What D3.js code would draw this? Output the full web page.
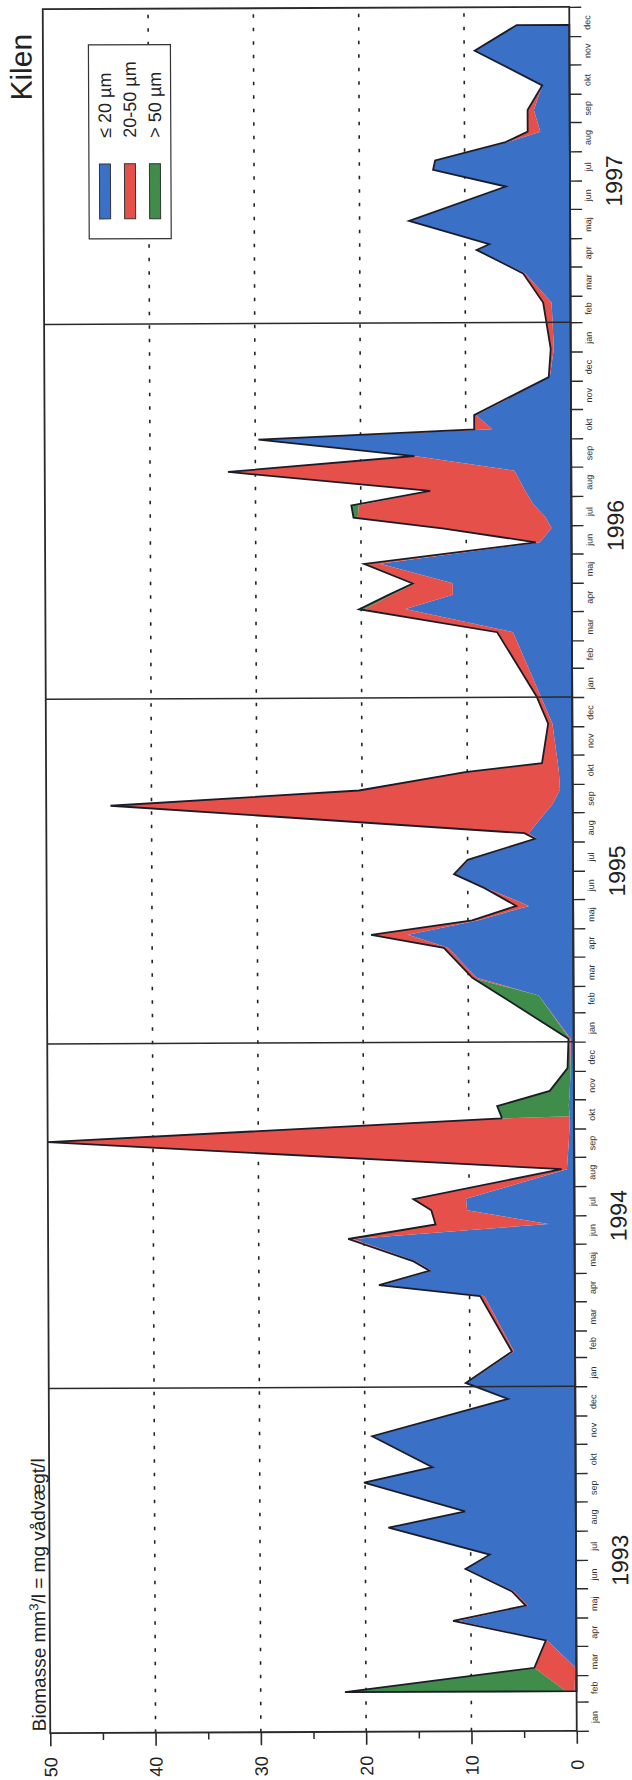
<!DOCTYPE html>
<html>
<head>
<meta charset="utf-8">
<script src="https://cdn.jsdelivr.net/npm/d3@7"></script>
<style>
body { margin: 0; background: #fff; }
text { font-family: "Liberation Sans", Arial, Helvetica, sans-serif; fill: #222; }
</style>
</head>
<body>
<div id="chart"></div>
<script>

// Kilen, biomass by size class, sampling dates 1993-1997
var dates = [
"1993-02-12","1993-03-09","1993-04-07","1993-04-28","1993-05-14","1993-05-29","1993-06-22","1993-07-07","1993-08-05","1993-08-22",
"1993-09-22","1993-10-08","1993-11-10","1993-12-19","1994-01-05","1994-02-07","1994-04-07","1994-04-19","1994-05-04","1994-05-14",
"1994-06-07","1994-06-22","1994-07-07","1994-07-19","1994-08-19","1994-09-19","1994-10-12","1994-10-14","1994-10-25","1994-11-10",
"1994-12-04","1995-01-04","1995-02-19","1995-03-10","1995-04-11","1995-04-25","1995-05-10","1995-05-25","1995-06-13","1995-06-28",
"1995-07-13","1995-08-04","1995-08-10","1995-09-10","1995-09-25","1995-10-14","1995-10-23","1995-12-04","1996-01-02","1996-03-10",
"1996-04-04","1996-04-19","1996-05-01","1996-05-22","1996-06-13","1996-06-28","1996-07-10","1996-07-23","1996-08-07","1996-08-28",
"1996-09-13","1996-10-01","1996-10-11","1996-10-26","1996-12-05","1997-01-04","1997-02-22","1997-03-25","1997-04-19","1997-04-25",
"1997-05-20","1997-06-25","1997-07-13","1997-07-23","1997-08-11","1997-08-22","1997-09-14","1997-10-10","1997-11-16","1997-12-13"
];

// <= 20 um
var small = [
0.2,0.1,2.8,11.2,4.6,5.9,10.4,8.1,17.7,10.4,
20.0,13.5,19.2,6.3,10.3,5.8,8.6,18.4,13.6,15.1,
21.0,2.5,10.2,10.3,0.7,0.5,0.4,0.4,0.5,0.4,
0.3,0.3,3.3,9.2,11.9,15.7,9.0,4.2,8.2,11.2,
9.9,3.4,4.2,1.9,1.2,1.3,1.4,1.9,3.0,5.6,
15.8,11.3,11.3,18.2,3.0,1.9,2.5,3.6,4.4,5.4,
14.9,29.7,7.5,9.0,2.0,1.6,1.8,4.3,8.8,7.6,
15.3,6.1,13.0,12.8,5.9,2.8,3.4,2.6,9.0,5.0
];

// 20-50 um
var medium = [
0.8,3.9,0.1,0.5,0.2,0.2,0.1,0.1,0.1,0.1,
0.1,0.1,0.1,0.1,0.1,0.2,0.4,0.2,0.2,0.2,
0.5,10.7,3.4,5.0,0.5,49.5,6.5,0,0,0,
0,0.1,0,0.4,0.4,3.5,0.6,1.2,0.2,0.1,
0.1,0,0.4,42.0,19.1,8.9,1.5,0.4,0.4,1.5,
3.9,5.8,3.6,1.3,0.4,10.2,17.8,16.6,9.0,27.2,
0,0,1.7,0.2,0.1,0.3,0.8,0.2,0.1,0.1,
0,0,0,0,0.2,1.2,0.6,0,0,0
];

// > 50 um
var large = [
21.0,0,0,0,0,0,0,0,0,0,
0,0,0,0,0,0,0,0,0,0,
0,0,0,0,0,0,0,6.5,6.8,1.9,
0.3,0.1,3.6,0,0,0,0,0,0,0,
0,0.2,0,0,0,0,0,0,0,0,
0.5,0.3,0.2,0.2,0,0,0.4,0.7,0,0,
0,0,0,0,0,0,0,0,0,0,
0,0,0,0,0,0,0,0,0,0
];

var valueTicks = [0, 10, 20, 30, 40, 50];
var minorTicks = [5, 15, 25, 35, 45];
var gridValues = [10, 20, 30, 40];
var monthNames = ["jan","feb","mar","apr","maj","jun","jul","aug","sep","okt","nov","dec"];
var years = [1993, 1994, 1995, 1996, 1997];
var yearLines = ["1994-01-01", "1995-01-01", "1996-01-01", "1997-02-01"];
var legendLabels = ["\u2264 20 \u00b5m", "20-50 \u00b5m", "> 50 \u00b5m"];
var colors = ["#3a70c5", "#e6504a", "#3f8c4b"];

var parseDate = d3.timeParse("%Y-%m-%d");

var svg = d3.select("#chart")
	.append("svg")
	.attr("width", 632)
	.attr("height", 1780);

svg.append("rect").attr("width", 632).attr("height", 1780).attr("fill", "#fff");

// the scanned page is tilted a little
var chart = svg.append("g").attr("transform", "rotate(-0.25,313,870)");

var plotLeft = 46.5, plotRight = 573, plotTop = 8, plotBottom = 1732;

var x = d3.scaleLinear().domain([0, 50]).range([plotRight, plotLeft]);
var y = d3.scaleTime()
	.domain([new Date(1993, 0, 1), new Date(1998, 0, 1)])
	.range([plotBottom, plotTop]);

var rows = dates.map(function(d, i){
	return {date: parseDate(d), small: small[i], medium: medium[i], large: large[i]};
});

// dotted grid
gridValues.forEach(function(v){
	chart.append("line")
		.attr("x1", x(v)).attr("x2", x(v))
		.attr("y1", plotBottom).attr("y2", plotTop)
		.style("stroke", "#222")
		.style("stroke-width", 1.6)
		.style("stroke-dasharray", "3.5,10");
});

var series = d3.stack().keys(["small", "medium", "large"])(rows);

var area = d3.area()
	.y(function(d){ return y(d.data.date); })
	.x0(function(d){ return x(d[0]); })
	.x1(function(d){ return x(d[1]); });

chart.selectAll(".layer")
	.data(series)
	.enter()
	.append("path")
	.attr("class", "layer")
	.attr("d", area)
	.style("fill", function(d, i){ return colors[i]; });

// outline of the total
var outline = d3.area()
	.y(function(d){ return y(d.date); })
	.x0(x(0))
	.x1(function(d){ return x(d.small + d.medium + d.large); });

chart.append("path")
	.attr("d", outline(rows))
	.style("fill", "none")
	.style("stroke", "#1c1c28")
	.style("stroke-width", 1.8)
	.style("stroke-linejoin", "miter");

// year separators
yearLines.forEach(function(d){
	var yy = y(parseDate(d));
	chart.append("line")
		.attr("x1", plotLeft).attr("x2", plotRight)
		.attr("y1", yy).attr("y2", yy)
		.style("stroke", "#2a2a2a")
		.style("stroke-width", 1.5);
});

// frame
chart.append("rect")
	.attr("x", plotLeft).attr("y", plotTop)
	.attr("width", plotRight - plotLeft).attr("height", plotBottom - plotTop)
	.style("fill", "none")
	.style("stroke", "#2a2a2a")
	.style("stroke-width", 1.8);

// value axis
var gx = chart.append("g")
	.attr("transform", "translate(0," + plotBottom + ")")
	.call(d3.axisBottom(x).tickValues(valueTicks).tickSize(13));
gx.select(".domain").remove();
gx.selectAll(".tick line").style("stroke", "#2a2a2a").style("stroke-width", 1.6);
gx.selectAll(".tick text")
	.attr("transform", "rotate(-90)")
	.attr("x", -34).attr("y", 0).attr("dy", "0.35em")
	.attr("text-anchor", "middle")
	.style("font-size", "18px");

var gm = chart.append("g")
	.attr("transform", "translate(0," + plotBottom + ")")
	.call(d3.axisBottom(x).tickValues(minorTicks).tickSize(7).tickFormat(""));
gm.select(".domain").remove();
gm.selectAll(".tick line").style("stroke", "#2a2a2a").style("stroke-width", 1.5);

// month axis
var monthStarts = d3.timeMonth.range(new Date(1993, 0, 1), new Date(1998, 0, 2));
var monthMids = monthStarts.slice(0, 60).map(function(d){ return d3.timeDay.offset(d, 15); });

var gy = chart.append("g")
	.attr("transform", "translate(" + plotRight + ",0)")
	.call(d3.axisRight(y).tickValues(monthStarts).tickSize(12).tickFormat(""));
gy.select(".domain").remove();
gy.selectAll(".tick line").style("stroke", "#2a2a2a").style("stroke-width", 1.4);

var gl = chart.append("g")
	.attr("transform", "translate(" + plotRight + ",0)")
	.call(d3.axisRight(y).tickValues(monthMids).tickSize(0)
		.tickFormat(function(d){ return monthNames[d.getMonth()]; }));
gl.select(".domain").remove();
gl.selectAll(".tick text")
	.attr("transform", "rotate(-90)")
	.attr("x", 0).attr("y", 21).attr("dy", 0)
	.attr("text-anchor", "middle")
	.style("font-size", "9px")
	.style("fill", "#333");

var gyr = chart.append("g")
	.attr("transform", "translate(" + plotRight + ",0)")
	.call(d3.axisRight(y).tickValues(years.map(function(yr){ return new Date(yr, 6, 1); }))
		.tickSize(0).tickFormat(d3.timeFormat("%Y")));
gyr.select(".domain").remove();
gyr.selectAll(".tick text")
	.attr("transform", "rotate(-90)")
	.attr("x", 0).attr("y", 52).attr("dy", 0)
	.attr("text-anchor", "middle")
	.style("font-size", "23px");

// titles
var title = chart.append("text")
	.attr("transform", "translate(42,1730) rotate(-90)")
	.style("font-size", "19px");
title.append("tspan").text("Biomasse mm");
title.append("tspan").attr("dy", -7).style("font-size", "13px").text("3");
title.append("tspan").attr("dy", 7).text("/l = mg v\u00e5dv\u00e6gt/l");

chart.append("text")
	.attr("transform", "translate(35,66) rotate(-90)")
	.attr("text-anchor", "middle")
	.style("font-size", "30px")
	.text("Kilen");

// legend
var legend = chart.append("g");
legend.append("rect")
	.attr("x", 92).attr("y", 44)
	.attr("width", 82).attr("height", 194)
	.style("fill", "#fff")
	.style("stroke", "#333")
	.style("stroke-width", 1.2);

legendLabels.forEach(function(label, i){
	var cx = 108 + i * 25;
	legend.append("rect")
		.attr("x", cx - 5.5).attr("y", 163)
		.attr("width", 11).attr("height", 55)
		.style("fill", colors[i])
		.style("stroke", "#333")
		.style("stroke-width", 1);
	legend.append("text")
		.attr("transform", "translate(" + cx + ",137) rotate(-90)")
		.attr("dy", "0.35em")
		.style("font-size", "18px")
		.text(label);
});

</script>
</body>
</html>
